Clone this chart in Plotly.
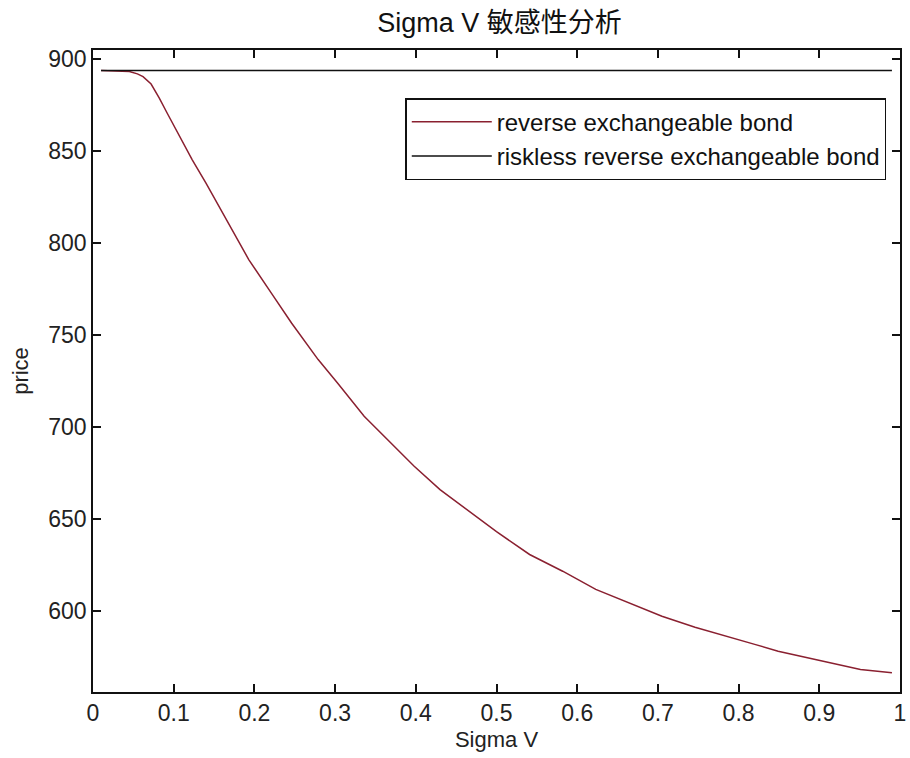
import plotly.graph_objects as go

# Red curve: reverse exchangeable bond price vs Sigma V
sigma_v = [0.01, 0.03, 0.045, 0.055, 0.062, 0.072, 0.082, 0.092, 0.107, 0.123,
           0.14, 0.156, 0.176, 0.193, 0.221, 0.246, 0.279, 0.303, 0.336, 0.369,
           0.398, 0.43, 0.463, 0.5, 0.541, 0.582, 0.623, 0.664, 0.705, 0.746,
           0.787, 0.82, 0.849, 0.902, 0.951, 0.99]
price = [893.8, 893.7, 893.3, 892.0, 890.5, 886.5, 879.0, 870.6, 858.0, 845.3,
         832.6, 820.0, 804.5, 791.0, 772.8, 756.5, 736.6, 723.9, 705.8, 691.3,
         678.6, 665.9, 655.0, 643.0, 630.6, 621.5, 611.6, 604.3, 597.0, 591.0,
         586.0, 581.7, 578.0, 572.6, 568.0, 566.3]

# Black line: riskless reverse exchangeable bond (constant)
riskless_x = [0.01, 0.99]
riskless_y = [893.8, 893.8]

x_ticks = [0, 0.1, 0.2, 0.3, 0.4, 0.5, 0.6, 0.7, 0.8, 0.9, 1]
x_tick_labels = ["0", "0.1", "0.2", "0.3", "0.4", "0.5", "0.6", "0.7", "0.8", "0.9", "1"]
y_ticks = [600, 650, 700, 750, 800, 850, 900]

FONT = "Liberation Sans, Arial, Noto Sans CJK SC, sans-serif"

fig = go.Figure()
fig.add_trace(go.Scatter(x=sigma_v, y=price, mode="lines",
                         name="reverse exchangeable bond", legendgroup="a",
                         line=dict(color="#8a2030", width=1.5)))
fig.add_trace(go.Scatter(x=riskless_x, y=riskless_y, mode="lines",
                         name="riskless reverse exchangeable bond", legendgroup="b",
                         line=dict(color="#111111", width=1.5)))

axis_common = dict(showline=True, linecolor="#111111", linewidth=1.5, mirror="ticks",
                   ticks="inside", ticklen=8, tickwidth=1.5, tickcolor="#111111",
                   showgrid=False, zeroline=False, ticklabeloverflow="allow",
                   tickfont=dict(family=FONT, size=23, color="#222222"))

fig.update_layout(
    width=910, height=758,
    margin=dict(l=93, r=4, t=50, b=66),
    paper_bgcolor="white", plot_bgcolor="white",
    title=dict(text="Sigma V 敏感性分析", x=0.549, xanchor="center", y=0.97, yanchor="middle",
               font=dict(family=FONT, size=27, color="#111111")),
    xaxis=dict(range=[0, 1], tickvals=x_ticks, ticktext=x_tick_labels,
               title=dict(text="Sigma V", font=dict(family=FONT, size=22, color="#222222"), standoff=6),
               **axis_common),
    yaxis=dict(range=[555.8, 905], tickvals=y_ticks,
               title=dict(text="price", font=dict(family=FONT, size=22, color="#222222"), standoff=14),
               **axis_common),
    legend=dict(x=0.983, xanchor="right", y=0.925, yanchor="top",
                bgcolor="white", bordercolor="#111111", borderwidth=1.5,
                font=dict(family=FONT, size=24, color="#111111"),
                itemwidth=80,
                tracegroupgap=8, traceorder="normal"),
    showlegend=True,
)

fig.write_html("out.html")
